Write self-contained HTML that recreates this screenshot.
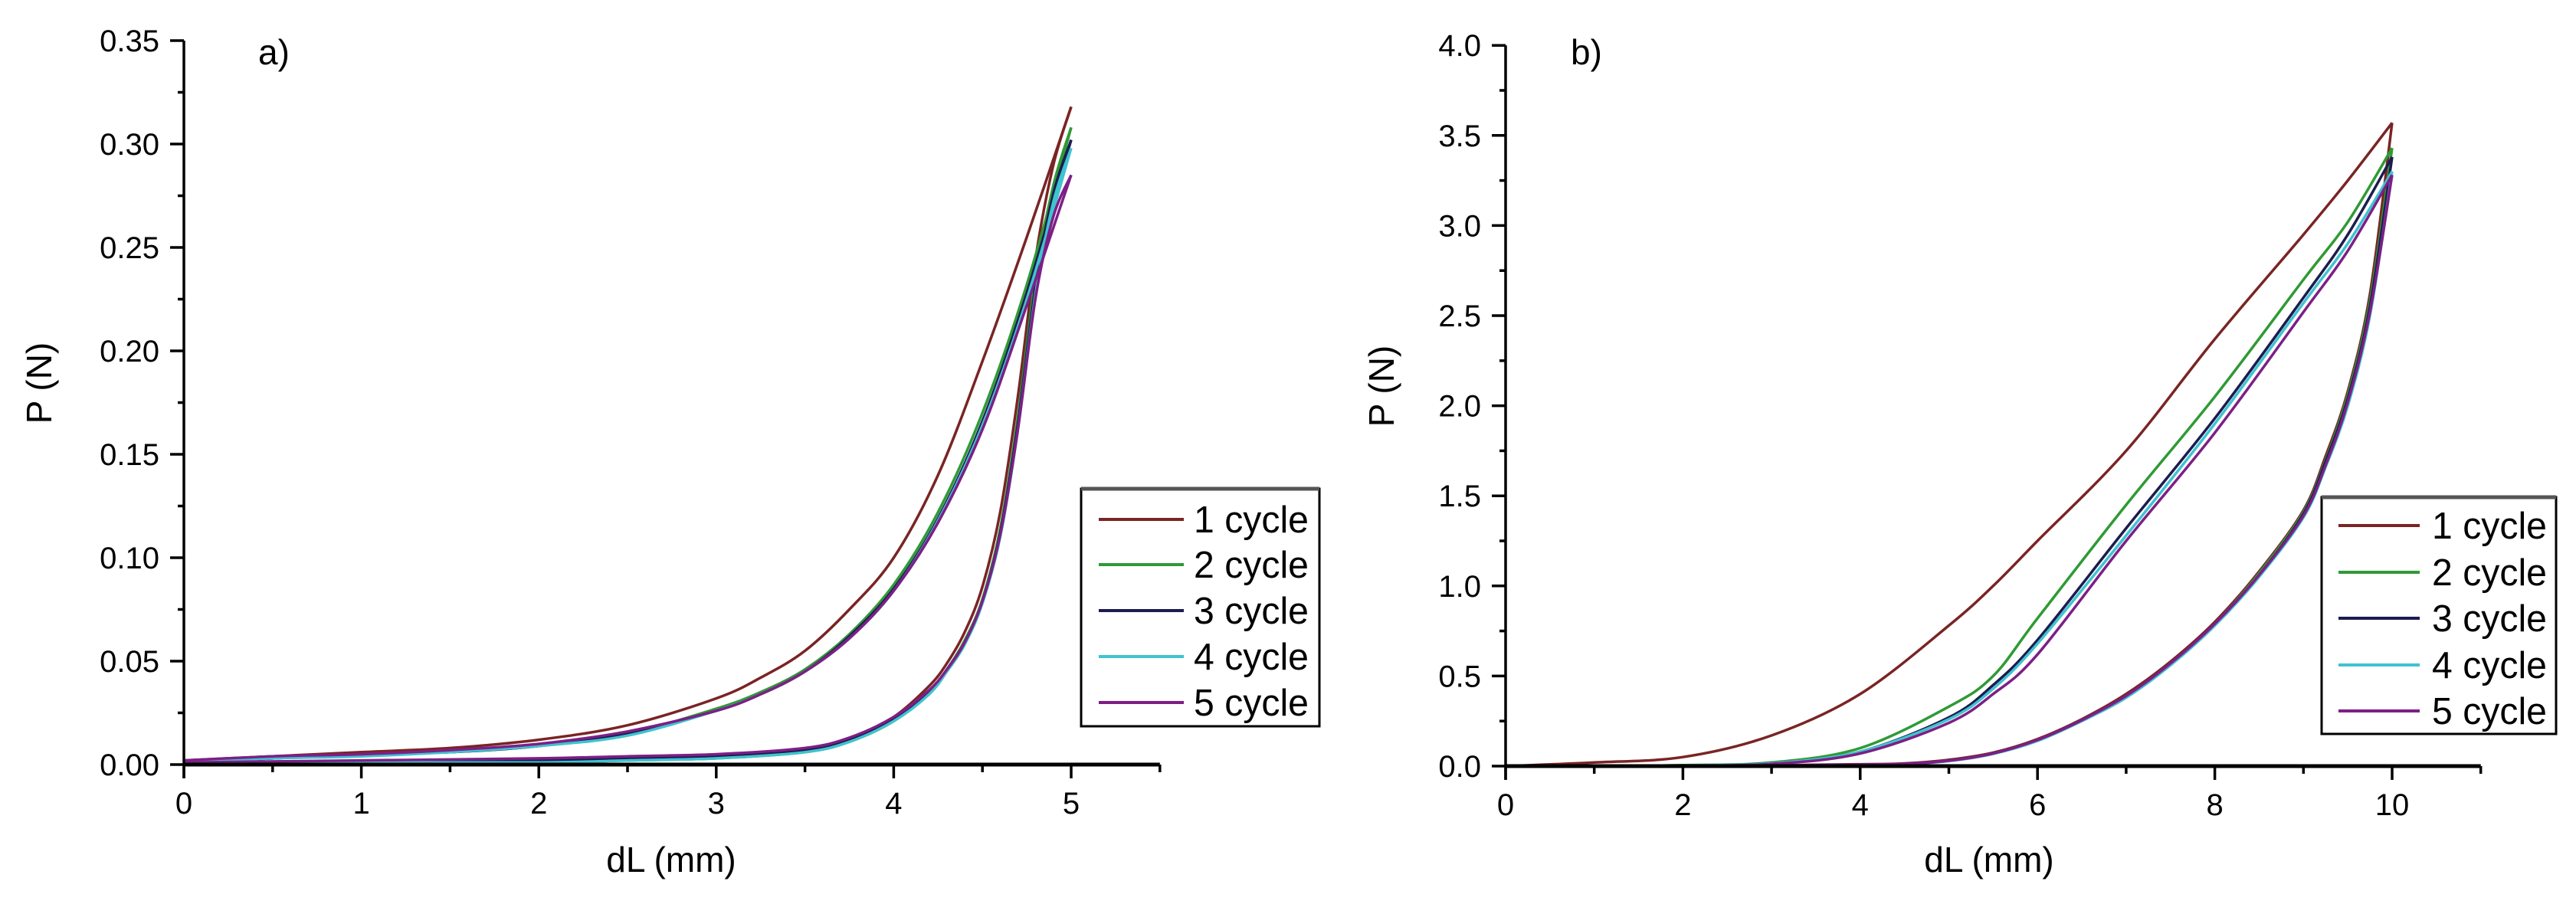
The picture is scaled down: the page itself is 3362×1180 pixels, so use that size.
<!DOCTYPE html>
<html><head><meta charset="utf-8"><style>
html,body{margin:0;padding:0;background:#fff;}
svg{display:block;font-family:"Liberation Sans",Arial,sans-serif;}
</style></head><body>
<svg id="fig" width="3362" height="1180" viewBox="0 0 3362 1180" xmlns="http://www.w3.org/2000/svg">
<rect width="3362" height="1180" fill="#fff"/>
<g id="chartA"></g>
<g id="chartB"></g>
</svg>
<script>
// ---- Chart a) data ----
const aLoadX = [0,0.5,1,1.5,2,2.5,3,3.25,3.5,3.75,4,4.25,4.5,4.75,5];
const aLoad1 = [0.002,0.004,0.006,0.008,0.012,0.019,0.032,0.042,0.055,0.075,0.100,0.140,0.195,0.255,0.318];
const aLoad2 = [0.001,0.003,0.005,0.006,0.009,0.015,0.027,0.035,0.046,0.063,0.087,0.122,0.170,0.232,0.308];
const aLoad3 = [0.001,0.003,0.005,0.006,0.009,0.015,0.026,0.034,0.045,0.062,0.085,0.119,0.166,0.228,0.302];
const aLoad4 = [0.001,0.003,0.004,0.006,0.009,0.014,0.026,0.034,0.045,0.061,0.084,0.118,0.164,0.225,0.298];
const aLoad5 = [0.002,0.004,0.005,0.007,0.010,0.016,0.026,0.034,0.045,0.061,0.084,0.117,0.162,0.222,0.285];
const aUnX = [0,1,2,2.5,3,3.5,3.75,4,4.2,4.3,4.4,4.5,4.6,4.7,4.8,4.9,5];
const aUn1 = [0,0.001,0.002,0.003,0.004,0.007,0.012,0.023,0.038,0.049,0.064,0.086,0.122,0.178,0.245,0.29,0.318];
const aUn2 = [0,0.001,0.001,0.002,0.003,0.006,0.011,0.021,0.035,0.046,0.060,0.080,0.114,0.168,0.236,0.28,0.308];
const aUn3 = [0,0.001,0.002,0.003,0.004,0.007,0.012,0.022,0.035,0.046,0.059,0.079,0.112,0.165,0.232,0.276,0.302];
const aUn4 = [0,0.001,0.001,0.002,0.003,0.006,0.011,0.021,0.034,0.045,0.058,0.078,0.110,0.162,0.228,0.272,0.298];
const aUn5 = [0.001,0.002,0.003,0.004,0.005,0.008,0.013,0.023,0.036,0.046,0.059,0.079,0.111,0.162,0.226,0.265,0.285];
const aXTicks = [0,1,2,3,4,5];
const aYTicks = [0,0.05,0.10,0.15,0.20,0.25,0.30,0.35];
const aYLabels = ["0.00","0.05","0.10","0.15","0.20","0.25","0.30","0.35"];

// ---- Chart b) data ----
const bLoadX = [0,1,2,3,4,5,5.5,6,7,8,9,9.5,10];
const bLoad1 = [0,0.02,0.05,0.17,0.40,0.78,1.0,1.25,1.75,2.37,2.95,3.25,3.57];
const bLoad2 = [0,0,0.005,0.02,0.10,0.33,0.50,0.82,1.45,2.05,2.70,3.02,3.43];
const bLoad3 = [0,0,0.004,0.015,0.08,0.27,0.45,0.70,1.32,1.93,2.60,2.95,3.38];
const bLoad4 = [0,0,0.004,0.015,0.08,0.26,0.43,0.68,1.28,1.90,2.57,2.90,3.30];
const bLoad5 = [0,0,0.003,0.012,0.07,0.24,0.40,0.62,1.25,1.85,2.52,2.86,3.28];
const bUnX = [0,2,4,4.5,5,5.5,6,6.5,7,7.5,8,8.5,9,9.25,9.5,9.75,10];
const bUn1 = [0,0,0.01,0.015,0.035,0.075,0.15,0.26,0.40,0.58,0.80,1.08,1.42,1.72,2.08,2.62,3.57];
const bUn2 = [0,0,0.008,0.012,0.03,0.07,0.145,0.255,0.39,0.57,0.79,1.07,1.41,1.70,2.06,2.58,3.43];
const bUn3 = [0,0,0.008,0.012,0.03,0.07,0.145,0.255,0.39,0.57,0.79,1.06,1.40,1.69,2.04,2.55,3.38];
const bUn4 = [0,0,0.007,0.011,0.028,0.068,0.14,0.25,0.38,0.56,0.78,1.05,1.38,1.66,2.00,2.50,3.30];
const bUn5 = [0,0,0.008,0.012,0.03,0.07,0.145,0.255,0.39,0.57,0.79,1.06,1.39,1.67,2.02,2.52,3.28];
const bXTicks = [0,2,4,6,8,10];
const bYTicks = [0,0.5,1,1.5,2,2.5,3,3.5,4];
const bYLabels = ["0.0","0.5","1.0","1.5","2.0","2.5","3.0","3.5","4.0"];

const seriesNames = ["1 cycle","2 cycle","3 cycle","4 cycle","5 cycle"];
const colors = ["#7a2424","#2f9a35","#1c1c50","#3fc3d0","#7d1f86"];

const NS = "http://www.w3.org/2000/svg";
function mk(parent, tag, attrs){ const e=document.createElementNS(NS,tag); for(const k in attrs) e.setAttribute(k,attrs[k]); parent.appendChild(e); return e; }
function smoothPath(pts){
  let d = "M"+pts[0][0].toFixed(1)+","+pts[0][1].toFixed(1);
  for(let i=0;i<pts.length-1;i++){
    const p0=pts[Math.max(0,i-1)], p1=pts[i], p2=pts[i+1], p3=pts[Math.min(pts.length-1,i+2)];
    const c1=[p1[0]+(p2[0]-p0[0])/6, p1[1]+(p2[1]-p0[1])/6];
    const c2=[p2[0]-(p3[0]-p1[0])/6, p2[1]-(p3[1]-p1[1])/6];
    d+=" C"+c1[0].toFixed(1)+","+c1[1].toFixed(1)+" "+c2[0].toFixed(1)+","+c2[1].toFixed(1)+" "+p2[0].toFixed(1)+","+p2[1].toFixed(1);
  }
  return d;
}

function drawChart(g, cfg){
  const sx = v => cfg.x0 + v*cfg.ux;
  const sy = v => cfg.y0 - v*cfg.uy;
  for(let i=0;i<5;i++){
    const up = cfg.loadY[i].map((v,j)=>[sx(cfg.loadX[j]), sy(v)]);
    const p1 = mk(g,"path",{d:smoothPath(up),fill:"none",stroke:colors[i],"stroke-width":3.5});
    
    
    const dn = cfg.unY[i].map((v,j)=>[sx(cfg.unX[j]), sy(v)]);
    const p2 = mk(g,"path",{d:smoothPath(dn),fill:"none",stroke:colors[i],"stroke-width":3.5});
    
    
  }
  const xa = mk(g,"line",{x1:cfg.x0,y1:cfg.y0,x2:sx(cfg.xMax),y2:cfg.y0,stroke:"#000","stroke-width":5});
  
  
  const ya = mk(g,"line",{x1:cfg.x0,y1:cfg.y0+18,x2:cfg.x0,y2:sy(cfg.yMax),stroke:"#000","stroke-width":3.5});
  
  
  for(let v=0; v<=cfg.xMax+1e-9; v+=cfg.xMinor){
    const major = cfg.xTicks.some(t=>Math.abs(t-v)<1e-6);
    mk(g,"line",{x1:sx(v),y1:cfg.y0,x2:sx(v),y2:cfg.y0+(major?18:10),stroke:"#000","stroke-width":3.5});
  }
  cfg.xTicks.forEach(t=>{
    const tx = mk(g,"text",{x:sx(t),y:cfg.y0+64,"font-size":40,"text-anchor":"middle",fill:"#000"});
    tx.textContent = String(t);
    
    
  });
  for(let v=0; v<=cfg.yMax+1e-9; v+=cfg.yMinor){
    const major = cfg.yTicks.some(t=>Math.abs(t-v)<1e-6);
    mk(g,"line",{x1:cfg.x0,y1:sy(v),x2:cfg.x0-(major?18:8),y2:sy(v),stroke:"#000","stroke-width":3.5});
  }
  cfg.yTicks.forEach((t,i)=>{
    const tx = mk(g,"text",{x:cfg.x0-32,y:sy(t)+14,"font-size":40,"text-anchor":"end",fill:"#000"});
    tx.textContent = cfg.yLabels[i];
    
    
  });
  const xt = mk(g,"text",{x:cfg.xTitleX,y:1138,"font-size":46,"text-anchor":"middle",fill:"#000"});
  xt.textContent = "dL (mm)";
  
  
  const yt = mk(g,"text",{x:0,y:0,"font-size":46,"text-anchor":"middle",fill:"#000",transform:"translate("+(cfg.yTitleX+16)+","+cfg.yTitleY+") rotate(-90)"});
  yt.textContent = "P (N)";
  
  
  const pl = mk(g,"text",{x:cfg.panelX,y:84,"font-size":46,fill:"#000"});
  pl.textContent = cfg.panel;
  
  
  const lg = mk(g,"g",{});
  
  
  mk(lg,"rect",{x:cfg.lg.x,y:cfg.lg.y,width:cfg.lg.w,height:cfg.lg.h,fill:"#fff",stroke:"#000","stroke-width":3});
  mk(lg,"line",{x1:cfg.lg.x,y1:cfg.lg.y,x2:cfg.lg.x+cfg.lg.w,y2:cfg.lg.y,stroke:"#555","stroke-width":5});
  for(let i=0;i<5;i++){
    const ry = cfg.lg.rows[i];
    const e = mk(lg,"g",{});
    
    
    mk(e,"line",{x1:cfg.lg.l1,y1:ry,x2:cfg.lg.l2,y2:ry,stroke:colors[i],"stroke-width":4});
    const t = mk(e,"text",{x:cfg.lg.tx,y:ry+17,"font-size":49,fill:"#000",textLength:150,lengthAdjust:"spacingAndGlyphs"});
    t.textContent = seriesNames[i];
  }
}

drawChart(document.getElementById("chartA"), {
  x0:240, ux:231.6, y0:998, uy:2700, xMax:5.5, yMax:0.35, xMinor:0.5, yMinor:0.025,
  xTicks:aXTicks, yTicks:aYTicks, yLabels:aYLabels,
  loadX:aLoadX, loadY:[aLoad1,aLoad2,aLoad3,aLoad4,aLoad5],
  unX:aUnX, unY:[aUn1,aUn2,aUn3,aUn4,aUn5],
  xTitleX:876, yTitleX:51, yTitleY:500, panel:"a)", panelX:337,
  lg:{x:1411,y:638,w:311,h:310,rows:[678,737,797,857,917],l1:1434,l2:1545,tx:1558}
});
drawChart(document.getElementById("chartB"), {
  x0:1965, ux:115.7, y0:1000, uy:235.2, xMax:11, yMax:4.0, xMinor:1, yMinor:0.25,
  xTicks:bXTicks, yTicks:bYTicks, yLabels:bYLabels,
  loadX:bLoadX, loadY:[bLoad1,bLoad2,bLoad3,bLoad4,bLoad5],
  unX:bUnX, unY:[bUn1,bUn2,bUn3,bUn4,bUn5],
  xTitleX:2596, yTitleX:1803, yTitleY:504, panel:"b)", panelX:2050,
  lg:{x:3030,y:649,w:306,h:309,rows:[686,747,807,868,928],l1:3052,l2:3158,tx:3174}
});
</script>
</body></html>
